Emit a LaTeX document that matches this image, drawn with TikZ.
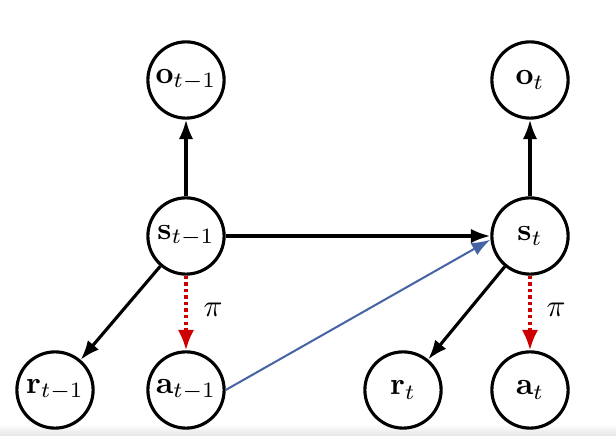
\documentclass[tikz,border=0pt]{standalone}
\usetikzlibrary{arrows.meta}
\begin{document}
\begin{tikzpicture}[x=0.32pt,y=-0.32pt,
  var/.style={circle,draw,line width=1pt,minimum size=24.4pt,inner sep=0pt},
  edge/.style={line width=1pt,-{Latex[length=6.2pt,width=4.6pt]}},
  pol/.style={line width=1.1pt,red!80!black,densely dotted,-{Latex[length=6.5pt,width=5.2pt]}},
  trans/.style={line width=0.65pt,color={rgb,255:red,70;green,100;blue,165},-{Latex[length=6pt,width=4.4pt]}},
  lab/.style={inner sep=0pt}]
\useasboundingbox (0,0) rectangle (616,436);
\shade[top color=white,bottom color=black!10] (0,424) rectangle (616,436);
\node[var] (o1) at (186,80) {$\mathbf{o}_{t-1}$};
\node[var] (s1) at (186,236) {$\mathbf{s}_{t-1}$};
\node[var] (r1) at (55,390) {$\mathbf{r}_{t-1}$};
\node[var] (a1) at (186,390) {$\mathbf{a}_{t-1}$};
\node[var] (o2) at (530,80) {$\mathbf{o}_{t}$};
\node[var] (s2) at (530,236) {$\mathbf{s}_{t}$};
\node[var] (r2) at (403,390) {$\mathbf{r}_{t}$};
\node[var] (a2) at (530,390) {$\mathbf{a}_{t}$};
\node[lab] (p1) at (213,310) {$\pi$};
\node[lab] (p2) at (556,310) {$\pi$};
\draw[edge] (s1) -- (o1);
\draw[edge] (s2) -- (o2);
\draw[edge] (s1) -- (r1);
\draw[edge] (s2) -- (r2);
\draw[pol] (s1) -- (a1);
\draw[pol] (s2) -- (a2);
\draw[edge] (s1.east) -- (s2.west);
\draw[trans] (a1.east) -- ([yshift=-1.2pt]s2.west);
\end{tikzpicture}
\end{document}
